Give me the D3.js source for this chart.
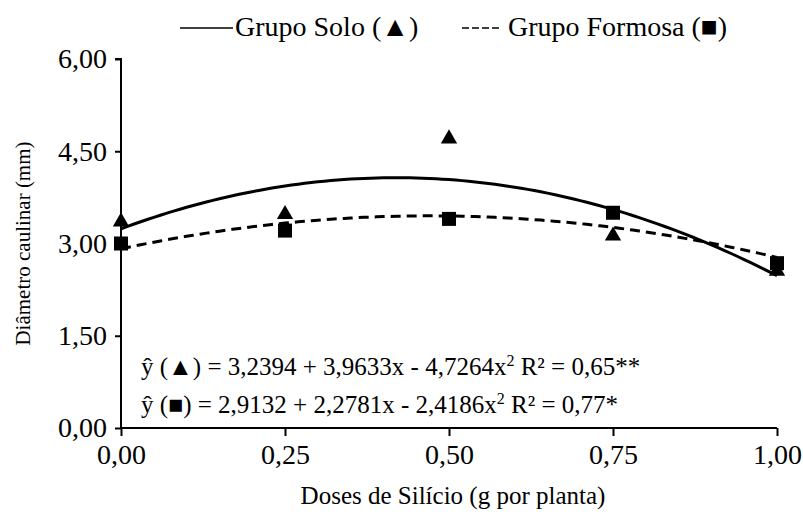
<!DOCTYPE html>
<html>
<head>
<meta charset="utf-8">
<script src="https://cdn.jsdelivr.net/npm/d3@7"></script>
<style>
  body { margin: 0; background: #fff; }
  svg text { font-family: "Liberation Serif", "Times New Roman", serif; fill: #000; }
</style>
</head>
<body>
<div id="chart"></div>
<script>
// doses (g por planta)
const doses = [0, 0.25, 0.5, 0.75, 1.0];
const soloValues = [3.37, 3.49, 4.72, 3.14, 2.57];
const formosaValues = [3.00, 3.21, 3.40, 3.50, 2.68];
// regression coefficients printed on the chart (a + b x + c x^2)
const soloCoef = [3.2394, 3.9633, -4.7264];
const formosaCoef = [2.9132, 2.2781, -2.4186];
const yTicks = [0, 1.5, 3, 4.5, 6];
const xTicks = [0, 0.25, 0.5, 0.75, 1.0];

const W = 803, H = 517;
const margin = { top: 59, right: 26, bottom: 89, left: 121 };
const width = W - margin.left - margin.right;
const height = H - margin.top - margin.bottom;
const SERIF = "Liberation Serif";

const svg = d3.select("#chart").append("svg")
    .attr("width", W).attr("height", H)
    .attr("font-family", SERIF);
const g = svg.append("g").attr("transform", `translate(${margin.left},${margin.top})`);

const x = d3.scaleLinear().domain([0, 1]).range([0, width]);
const y = d3.scaleLinear().domain([0, 6]).range([height, 0]);
const fmt = v => d3.format(".2f")(v).replace(".", ",");
const fmt4 = v => d3.format(".4f")(v).replace(".", ",");

// axes
const yAxis = g.append("g")
    .call(d3.axisLeft(y).tickValues(yTicks).tickSize(6).tickPadding(8).tickFormat(fmt));
const xAxis = g.append("g").attr("transform", `translate(0,${height})`)
    .call(d3.axisBottom(x).tickValues(xTicks).tickSize(8).tickPadding(8).tickFormat(fmt));
[yAxis, xAxis].forEach(a => {
    a.attr("font-family", SERIF);
    a.select(".domain").attr("stroke", "#000").attr("stroke-width", 2);
    a.selectAll(".tick line").attr("stroke", "#000").attr("stroke-width", 2);
    a.selectAll(".tick text").style("font-size", "28px");
});
yAxis.select(".domain").attr("d", `M0,${height}V0H-6`);
xAxis.select(".domain").attr("d", `M0,0H${width}`);

// trend curves
const grid = d3.range(0, 1.0001, 0.01);
const curve = c => grid.map(t => [t, c[0] + c[1] * t + c[2] * t * t]);
const line = d3.line().x(d => x(d[0])).y(d => y(d[1]));

g.append("path").datum(curve(formosaCoef))
    .attr("fill", "none").attr("stroke", "#000").attr("stroke-width", 3)
    .attr("stroke-dasharray", "10,6").attr("d", line);
g.append("path").datum(curve(soloCoef))
    .attr("fill", "none").attr("stroke", "#000").attr("stroke-width", 3).attr("d", line);

// markers
g.selectAll(".sq").data(doses).join("rect")
    .attr("x", d => x(d) - 7).attr("y", (d, i) => y(formosaValues[i]) - 7)
    .attr("width", 14).attr("height", 14).attr("fill", "#000");
const tri = d3.symbol().type(d3.symbolTriangle).size(115);
g.selectAll(".tri").data(doses).join("path")
    .attr("transform", (d, i) => `translate(${x(d)},${y(soloValues[i]) + 1})`)
    .attr("d", tri).attr("fill", "#000");

// axis titles
svg.append("text").attr("x", margin.left + width / 2 + 4).attr("y", 504)
    .attr("text-anchor", "middle").style("font-size", "25px")
    .text("Doses de Silício (g por planta)");
svg.append("text").attr("transform", `translate(30,${margin.top + height / 2}) rotate(-90)`)
    .attr("text-anchor", "middle").style("font-size", "21px")
    .text("Diâmetro caulinar (mm)");

// equations
function equation(yPos, sym, c, r2) {
    const t = svg.append("text").attr("x", 141).attr("y", yPos).style("font-size", "25px");
    t.append("tspan").text(`ŷ (${sym}) = ${fmt4(c[0])} + ${fmt4(c[1])}x - ${fmt4(-c[2])}x`);
    t.append("tspan").attr("dy", -9).style("font-size", "16px").text("2");
    t.append("tspan").attr("dy", 9).text(` R² = ${r2}`);
}
equation(375, "▲", soloCoef, "0,65**");
equation(413, "■", formosaCoef, "0,77*");

// legend
const lg = svg.append("g");
lg.append("line").attr("x1", 180).attr("x2", 233).attr("y1", 28).attr("y2", 28)
    .attr("stroke", "#000").attr("stroke-width", 1.5);
lg.append("text").attr("x", 235).attr("y", 36).style("font-size", "28px").text("Grupo Solo (▲)");
lg.append("line").attr("x1", 462).attr("x2", 500).attr("y1", 28).attr("y2", 28)
    .attr("stroke", "#000").attr("stroke-width", 1.5).attr("stroke-dasharray", "7,3");
lg.append("text").attr("x", 508).attr("y", 36).style("font-size", "28px").text("Grupo Formosa (■)");
</script>
</body>
</html>
